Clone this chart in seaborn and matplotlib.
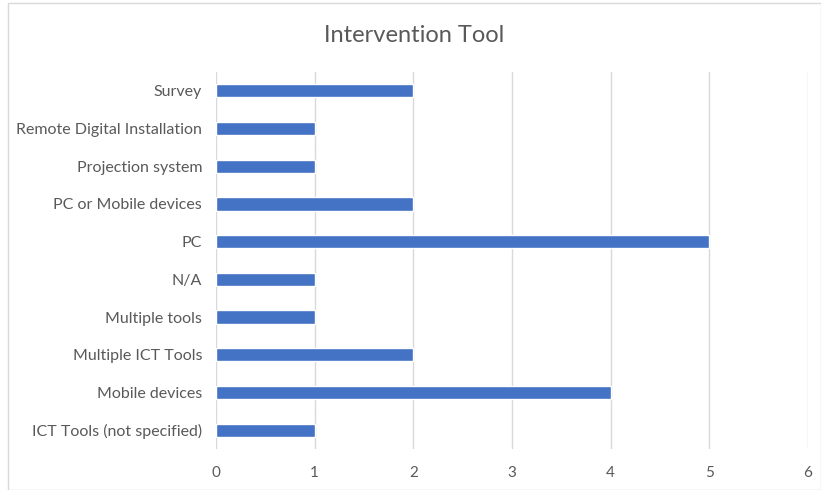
import matplotlib
matplotlib.use("Agg")
import matplotlib.pyplot as plt
import seaborn as sns
import pandas as pd
from matplotlib.patches import Rectangle

categories = ["Survey", "Remote Digital Installation", "Projection system",
              "PC or Mobile devices", "PC", "N/A", "Multiple tools",
              "Multiple ICT Tools", "Mobile devices", "ICT Tools (not specified)"]
values = [2, 1, 1, 2, 5, 1, 1, 2, 4, 1]
x_ticks = [0, 1, 2, 3, 4, 5, 6]

sns.set_theme(style="white")
plt.rcParams['font.family'] = ['Lato', 'DejaVu Sans']

df = pd.DataFrame({"cat": categories, "val": values})

fig = plt.figure(figsize=(8.21, 4.90), dpi=100)
ax = fig.add_axes([216/821, 1-449/490, (808-216)/821, (449-72)/490])

sns.barplot(data=df, x="val", y="cat", orient="h", color="#4472C4",
            saturation=1, width=0.35, ax=ax, zorder=3)

ax.set_xlim(0, 6)
ax.set_xticks(x_ticks)
ax.set_xticklabels([str(t) for t in x_ticks])
ax.xaxis.grid(True, color="#D9D9D9", linewidth=1, zorder=0)
ax.set_axisbelow(True)
for s in ax.spines.values():
    s.set_visible(False)
ax.tick_params(axis="both", length=0, colors="#595959", labelsize=11)
ax.tick_params(axis="y", labelsize=11.5, pad=10)
ax.tick_params(axis="x", pad=12)
ax.set_xlabel("")
ax.set_ylabel("")

fig.text((8+821)/2/821, 1-35/490, "Intervention Tool", ha="center", va="center",
         fontsize=17, color="#595959")

fig.patches.append(Rectangle((8/821, 0.0), 1-8/821 - 0.5/821, 1-3/490, transform=fig.transFigure,
                             fill=False, edgecolor="#D9D9D9", linewidth=1))

fig.savefig("out.png", dpi=100)
